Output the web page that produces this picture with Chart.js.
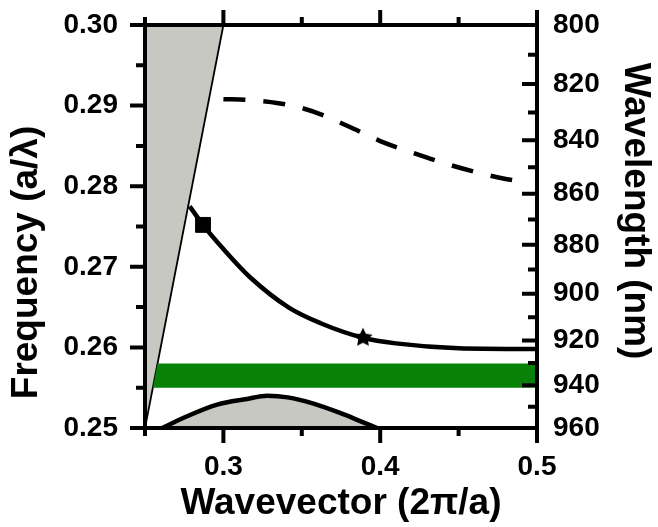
<!DOCTYPE html>
<html>
<head>
<meta charset="utf-8">
<script src="https://cdn.jsdelivr.net/npm/chart.js@4.4.0/dist/chart.umd.min.js"></script>
<style>
  html, body { margin: 0; padding: 0; background: #fff; }
  #wrap { width: 658px; height: 527px; }
</style>
</head>
<body>
<div id="wrap"><canvas id="bandChart" width="658" height="527"></canvas></div>
<script>
// lattice constant (nm): wavelength = A / frequency
const A = 240;

// light line (grey cone on the left)
const lightK = [0.25, 0.30];
const lightF = [0.25, 0.30];

// guided band (solid)
const bandK = [0.2785, 0.287, 0.300, 0.317, 0.342, 0.362, 0.389, 0.410, 0.450, 0.500];
const bandF = [0.2775, 0.2752, 0.2722, 0.2687, 0.2649, 0.2630, 0.2612, 0.2605, 0.2599, 0.2598];

// upper band (dashed)
const upperK = [0.300, 0.315, 0.335, 0.350, 0.365, 0.380, 0.400, 0.420, 0.440, 0.460, 0.480, 0.490];
const upperF = [0.2908, 0.2907, 0.2903, 0.2897, 0.2887, 0.2874, 0.2856, 0.2842, 0.2829, 0.2818, 0.2809, 0.2806];

// lower band (grey dome at the bottom)
const lowerK = [0.261, 0.275, 0.296, 0.315, 0.328, 0.341, 0.358, 0.374, 0.388, 0.398];
const lowerF = [0.2500, 0.2513, 0.2529, 0.2536, 0.2540, 0.2538, 0.2530, 0.2519, 0.2508, 0.2500];

// green emitter band
const greenK = [0.255, 0.258, 0.500];
const greenTop = [0.255, 0.258, 0.258];
const greenBottom = 0.255;

// markers
const squareK = [0.287], squareF = [0.2752];
const starK = [0.389], starF = [0.2612];

// ticks
const freqTicks = [0.25, 0.26, 0.27, 0.28, 0.29, 0.30];
const freqMinor = [0.255, 0.265, 0.275, 0.285, 0.295];
const waveTicks = [800, 820, 840, 860, 880, 900, 920, 940, 960];
const waveMinor = [810, 830, 850, 870, 890, 910, 930, 950];
const kTicks = [0.3, 0.4, 0.5];
const kMinor = [0.25, 0.35, 0.45];

const zip = (xs, ys) => xs.map((x, i) => ({ x: x, y: ys[i] }));

function makeStar(r) {
  const c = document.createElement('canvas');
  c.width = c.height = 2 * r + 2;
  const g = c.getContext('2d');
  g.beginPath();
  for (let i = 0; i < 10; i++) {
    const a = -Math.PI / 2 + i * Math.PI / 5;
    const rr = i % 2 ? r * 0.5 : r;
    g.lineTo(r + 1 + rr * Math.cos(a), r + 1 + rr * Math.sin(a));
  }
  g.closePath();
  g.fillStyle = '#000';
  g.fill();
  return c;
}

const FONT = "'Liberation Sans', Arial, Helvetica, sans-serif";
const tickFont = { family: FONT, size: 28, weight: 'bold' };
const titleFont = { family: FONT, size: 37, weight: 'bold' };

// vertical axes: don't let tick-label overhang push the plot area down
const noOverhang = s => { s.paddingTop = 0; s.paddingBottom = 0; };

// frame + tick marks drawn on top of the data
const framePlugin = {
  id: 'frame',
  afterDatasetsDraw(chart) {
    const { ctx, chartArea: a, scales } = chart;
    const x = scales.x, y = scales.y, y2 = scales.y2;
    ctx.save();
    ctx.strokeStyle = '#000';
    ctx.lineWidth = 4;
    ctx.beginPath();
    kTicks.forEach(v => { const p = x.getPixelForValue(v); ctx.moveTo(p, a.bottom); ctx.lineTo(p, a.bottom + 15); ctx.moveTo(p, a.top); ctx.lineTo(p, a.top - 15); });
    kMinor.forEach(v => { const p = x.getPixelForValue(v); ctx.moveTo(p, a.bottom); ctx.lineTo(p, a.bottom + 8); ctx.moveTo(p, a.top); ctx.lineTo(p, a.top - 8); });
    freqTicks.forEach(v => { const p = y.getPixelForValue(v); ctx.moveTo(a.left, p); ctx.lineTo(a.left - 15, p); });
    freqMinor.forEach(v => { const p = y.getPixelForValue(v); ctx.moveTo(a.left, p); ctx.lineTo(a.left - 9, p); });
    waveTicks.forEach(v => { const p = y2.getPixelForValue(A / v); ctx.moveTo(a.right, p); ctx.lineTo(a.right - 15, p); });
    waveMinor.forEach(v => { const p = y2.getPixelForValue(A / v); ctx.moveTo(a.right, p); ctx.lineTo(a.right - 9, p); });
    ctx.stroke();
    ctx.strokeRect(a.left, a.top, a.right - a.left, a.bottom - a.top);
    ctx.restore();
  }
};

const ctx = document.getElementById('bandChart').getContext('2d');
new Chart(ctx, {
  type: 'scatter',
  data: {
    datasets: [
      {
        label: 'star',
        data: zip(starK, starF),
        pointStyle: makeStar(10),
        pointRadius: 10,
        showLine: false
      },
      {
        label: 'square',
        data: zip(squareK, squareF),
        pointStyle: 'rect',
        pointRadius: 10.5,
        backgroundColor: '#000',
        borderColor: '#000',
        showLine: false
      },
      {
        label: 'band',
        data: zip(bandK, bandF),
        showLine: true,
        borderColor: '#000',
        borderWidth: 4.5,
        pointRadius: 0,
        cubicInterpolationMode: 'monotone',
        fill: false
      },
      {
        label: 'upper',
        data: zip(upperK, upperF),
        showLine: true,
        borderColor: '#000',
        borderWidth: 4.5,
        borderDash: [22, 18],
        pointRadius: 0,
        cubicInterpolationMode: 'monotone',
        fill: false
      },
      {
        label: 'lower',
        data: zip(lowerK, lowerF),
        showLine: true,
        borderColor: '#000',
        borderWidth: 4.5,
        pointRadius: 0,
        cubicInterpolationMode: 'monotone',
        backgroundColor: '#c8c8c3',
        fill: 'start'
      },
      {
        label: 'green',
        data: zip(greenK, greenTop),
        showLine: true,
        borderWidth: 0,
        pointRadius: 0,
        backgroundColor: '#078107',
        fill: { value: greenBottom }
      },
      {
        label: 'light',
        data: zip(lightK, lightF),
        showLine: true,
        borderColor: '#000',
        borderWidth: 1.8,
        pointRadius: 0,
        backgroundColor: '#c8c8c3',
        fill: 'end'
      }
    ]
  },
  options: {
    responsive: false,
    animation: false,
    layout: { padding: { top: 25, left: 0, right: 0, bottom: 0 } },
    plugins: {
      legend: { display: false },
      tooltip: { enabled: false },
      title: { display: false }
    },
    scales: {
      x: {
        type: 'linear',
        min: 0.25,
        max: 0.5,
        afterBuildTicks: s => { s.ticks = kTicks.map(v => ({ value: v })); },
        afterFit: s => { s.height = 99; },
        border: { display: false },
        grid: { display: false, drawTicks: false },
        ticks: {
          autoSkip: false,
          maxRotation: 0,
          padding: 22,
          color: '#000',
          font: tickFont,
          callback: v => v.toFixed(1)
        },
        title: {
          display: true,
          text: 'Wavevector (2\u03C0/a)',
          color: '#000',
          font: titleFont,
          padding: { top: 0, bottom: 1 }
        }
      },
      y: {
        type: 'linear',
        position: 'left',
        min: 0.25,
        max: 0.30,
        afterBuildTicks: s => { s.ticks = freqTicks.map(v => ({ value: v })); },
        afterFit: s => { s.width = 145; noOverhang(s); },
        border: { display: false },
        grid: { display: false, drawTicks: false },
        ticks: {
          autoSkip: false,
          padding: 27,
          color: '#000',
          font: tickFont,
          callback: v => v.toFixed(2)
        },
        title: {
          display: true,
          text: 'Frequency (a/\u03BB)       ',
          color: '#000',
          font: titleFont,
          padding: { top: 5, bottom: 0 }
        }
      },
      y2: {
        type: 'linear',
        position: 'right',
        min: 0.25,
        max: 0.30,
        afterBuildTicks: s => { s.ticks = waveTicks.map(w => ({ value: A / w })); },
        afterFit: s => { s.width = 121; noOverhang(s); },
        border: { display: false },
        grid: { display: false, drawTicks: false },
        ticks: {
          autoSkip: false,
          padding: 16,
          color: '#000',
          font: tickFont,
          callback: v => String(Math.round(A / v))
        },
        title: {
          display: true,
          text: 'Wavelength (nm)   ',
          color: '#000',
          font: titleFont,
          padding: { top: 1, bottom: 0 }
        }
      }
    }
  },
  plugins: [framePlugin]
});
</script>
</body>
</html>
